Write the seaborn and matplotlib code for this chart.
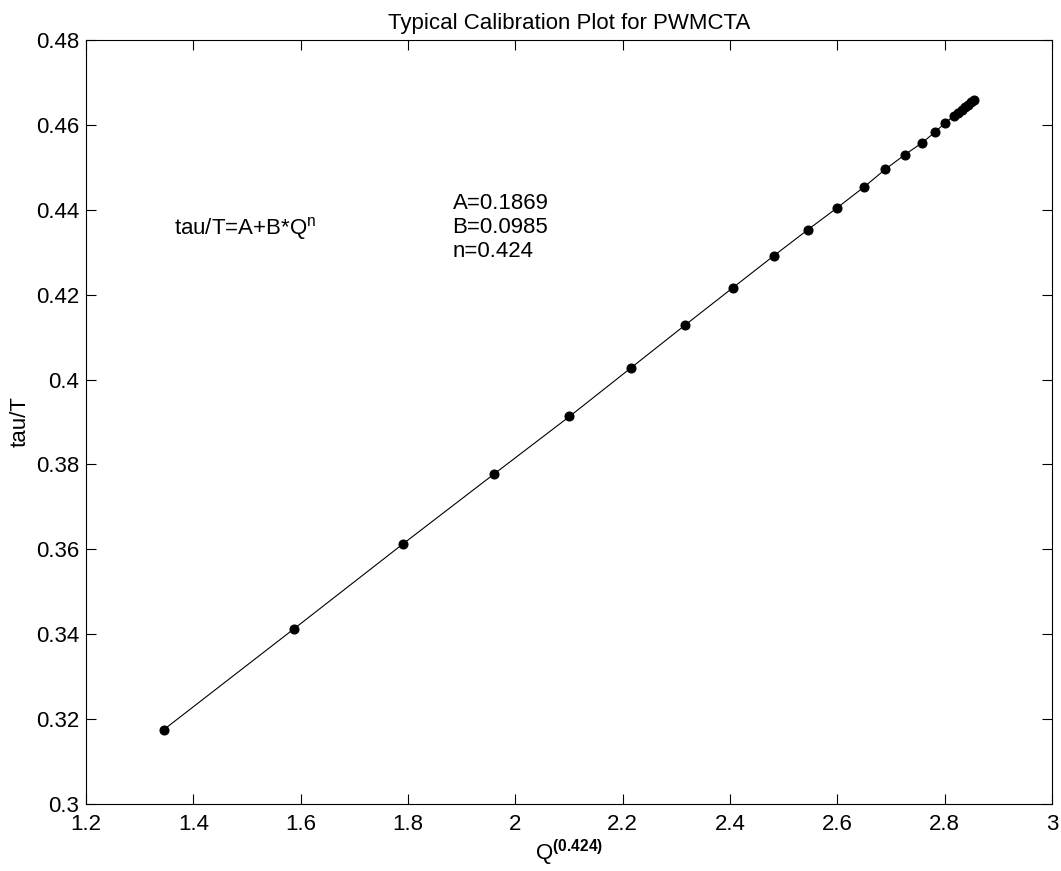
import numpy as np
import pandas as pd
import seaborn as sns
import matplotlib
matplotlib.use("Agg")
import matplotlib.pyplot as plt

# calibration points
q_n = [1.345, 1.587, 1.790, 1.961, 2.101, 2.216, 2.317, 2.405, 2.482, 2.545,
       2.599, 2.649, 2.689, 2.726, 2.758, 2.782, 2.800, 2.818, 2.825, 2.832,
       2.838, 2.844, 2.850, 2.855]
tau_T = [0.3175, 0.3412, 0.3612, 0.3778, 0.3913, 0.4028, 0.4129, 0.4216, 0.4292, 0.4353,
         0.4404, 0.4453, 0.4495, 0.4530, 0.4558, 0.4583, 0.4604, 0.4622, 0.4629, 0.4636,
         0.4642, 0.4648, 0.4654, 0.4659]

x_ticks = [1.2, 1.4, 1.6, 1.8, 2.0, 2.2, 2.4, 2.6, 2.8, 3.0]
x_tick_labels = ["1.2", "1.4", "1.6", "1.8", "2", "2.2", "2.4", "2.6", "2.8", "3"]
y_ticks = [0.30, 0.32, 0.34, 0.36, 0.38, 0.40, 0.42, 0.44, 0.46, 0.48]
y_tick_labels = ["0.3", "0.32", "0.34", "0.36", "0.38", "0.4", "0.42", "0.44", "0.46", "0.48"]

fit_params = ["A=0.1869", "B=0.0985", "n=0.424"]

df = pd.DataFrame({"q": q_n, "tau": tau_T})

sns.set_style("ticks")
plt.rcParams['font.family'] = ['Liberation Sans', 'DejaVu Sans']
plt.rcParams['mathtext.fontset'] = 'custom'
plt.rcParams['mathtext.rm'] = 'Liberation Sans'
plt.rcParams['mathtext.it'] = 'Liberation Sans:italic'
plt.rcParams['mathtext.bf'] = 'Liberation Sans:bold'
plt.rcParams['text.color'] = 'black'
plt.rcParams['axes.labelcolor'] = 'black'
plt.rcParams['xtick.color'] = 'black'
plt.rcParams['ytick.color'] = 'black'

fig = plt.figure(figsize=(10.61, 8.71), dpi=100)
ax = fig.add_axes([0.081, 0.077, 0.9105, 0.877])

sns.lineplot(data=df, x="q", y="tau", ax=ax, color="black", linewidth=0.8,
             marker="o", markersize=6.5, markeredgecolor="black", markerfacecolor="black")

ax.set_xlim(1.2, 3.0)
ax.set_ylim(0.3, 0.48)
ax.set_xticks(x_ticks)
ax.set_xticklabels(x_tick_labels)
ax.set_yticks(y_ticks)
ax.set_yticklabels(y_tick_labels)
ax.tick_params(direction="in", length=7, width=0.8, labelsize=16,
               top=True, right=True)
ax.tick_params(axis="x", pad=7)
ax.tick_params(axis="y", pad=5)
for s in ax.spines.values():
    s.set_linewidth(0.8)
    s.set_color("black")

ax.set_xlabel(r"Q$^{\mathbf{(0.424)}}$", fontsize=16, labelpad=2)
ax.set_ylabel("tau/T", fontsize=16, labelpad=4)
ax.set_title("Typical Calibration Plot for PWMCTA", fontsize=16, pad=8)

ax.text(1.364, 0.4357, r"tau/T=A+B*Q$^{\mathrm{n}}$", fontsize=16, va="center", ha="left")
for i, line in enumerate(fit_params):
    ax.text(1.883, 0.4416 - i * 0.0057, line, fontsize=16, va="center", ha="left")

fig.savefig("out.png", dpi=100, facecolor="white")
